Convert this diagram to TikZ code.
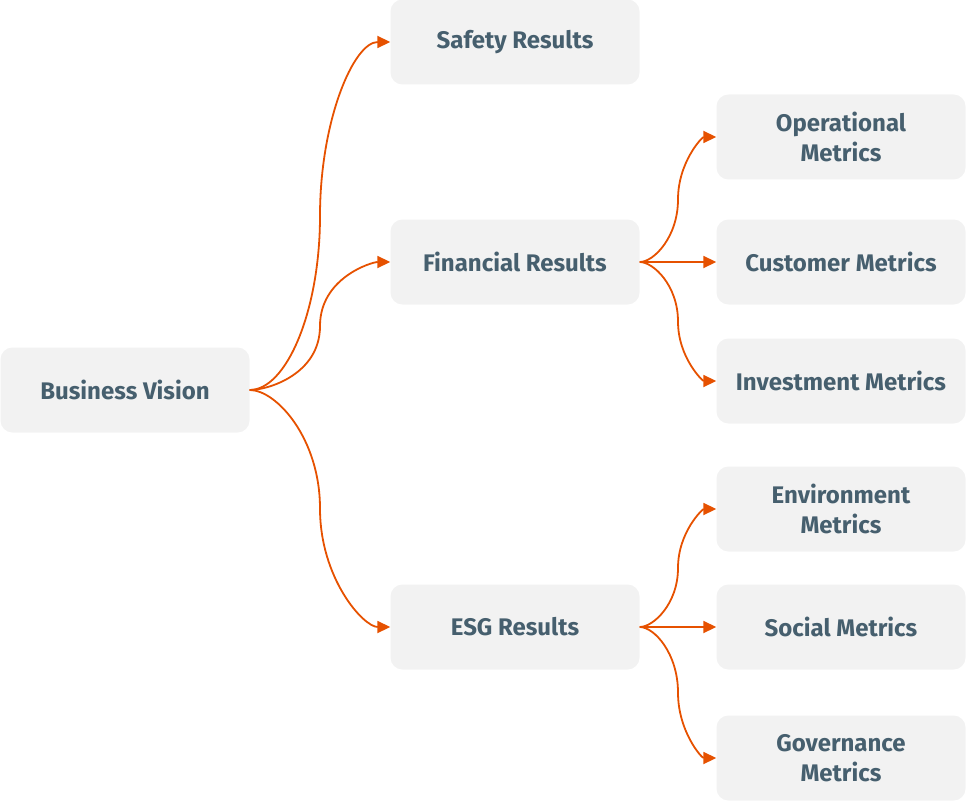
\documentclass[tikz,border=0pt]{standalone}
\usepackage{fontspec}
\setmainfont{Fira Sans}
\usepackage{tikz}
\usetikzlibrary{arrows.meta, calc}

\definecolor{boxgray}{HTML}{F2F2F2}
\definecolor{textslate}{HTML}{465F6E}
\definecolor{linkorange}{HTML}{E65100}

\tikzset{
    card/.style={fill=boxgray, rounded corners=12pt, minimum width=249pt, minimum height=85pt,
        align=center, text=textslate, font=\fontsize{24}{30}\selectfont\bfseries, inner sep=0pt},
    link/.style={linkorange, line width=1.8pt, -{Triangle[length=13pt, width=12pt]}}
}

\begin{document}
\begin{tikzpicture}[x=1pt, y=-1pt]
    \useasboundingbox (0,0) rectangle (966,805);
    \node[card] (vision) at (125,390) {Business Vision};
    \node[card] (safety) at (515,42) {Safety Results};
    \node[card] (financial) at (515,262) {Financial Results};
    \node[card] (esg) at (515,627) {ESG Results};
    \node[card] (operational) at (841,137) {Operational\\Metrics};
    \node[card] (customer) at (841,262) {Customer Metrics};
    \node[card] (investment) at (841,381) {Investment Metrics};
    \node[card] (environment) at (841,509) {Environment\\Metrics};
    \node[card] (social) at (841,627) {Social Metrics};
    \node[card] (governance) at (841,758) {Governance\\Metrics};
    % curved links, bending vertical halfway
    \foreach \s/\t/\v in {vision/safety/-90, vision/financial/-90, vision/esg/90,
                          financial/operational/-90, financial/investment/90,
                          esg/environment/-90, esg/governance/90}
        \draw[link] (\s.east)
            to[out=0, in=\v, out looseness=0.5, in looseness=1.3] ($(\s.east)!0.5!(\t.west)$)
            to[out=\v+180, in=180, out looseness=1.3, in looseness=0.5] (\t.west);
    % straight links
    \draw[link] (financial.east) -- (customer.west);
    \draw[link] (esg.east) -- (social.west);
\end{tikzpicture}
\end{document}
